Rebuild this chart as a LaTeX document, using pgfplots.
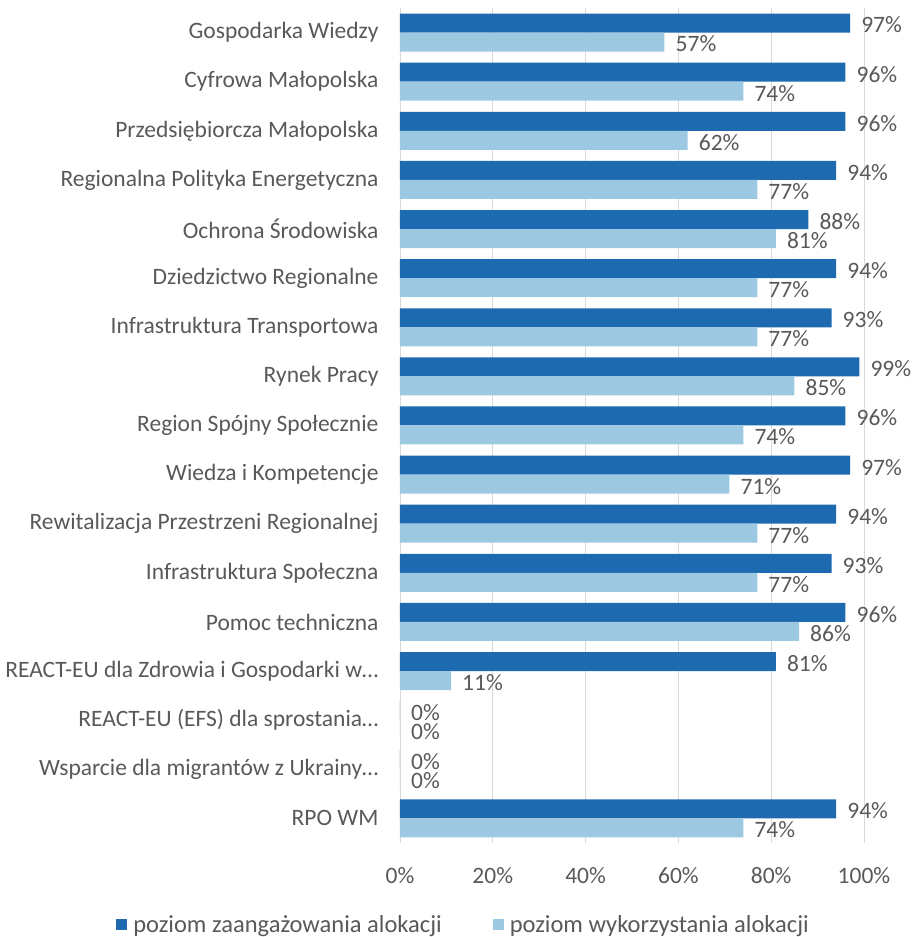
\documentclass[border=0pt]{standalone}
\usepackage{pgfplots}
\pgfplotsset{compat=1.18}
\usepackage{fontspec}
\setmainfont{Carlito}
\definecolor{darkb}{RGB}{30,106,176}
\definecolor{lightb}{RGB}{157,200,226}
\definecolor{txt}{RGB}{89,89,89}
\definecolor{grd}{RGB}{217,217,217}
\begin{document}
\begin{tikzpicture}
\path[use as bounding box] (-400pt,-94pt) rectangle (514pt,843pt);
\begin{axis}[
  at={(0pt,0pt)}, anchor=south west,
  scale only axis, width=464pt, height=835pt,
  /pgf/number format/assume math mode=true,
  xbar, bar width=19pt,
  xmin=0, xmax=100,
  ymin=-0.5, ymax=16.5,
  xtick={0,20,40,60,80,100},
  xticklabels={0\%,20\%,40\%,60\%,80\%,100\%},
  ytick={0,1,2,3,4,5,6,7,8,9,10,11,12,13,14,15,16},
  yticklabels={{RPO WM},{Wsparcie dla migrantów z Ukrainy…},{REACT-EU (EFS) dla sprostania…},{REACT-EU dla Zdrowia i Gospodarki w…},{Pomoc techniczna},{Infrastruktura Społeczna},{Rewitalizacja Przestrzeni Regionalnej},{Wiedza i Kompetencje},{Region Spójny Społecznie},{Rynek Pracy},{Infrastruktura Transportowa},{Dziedzictwo Regionalne},{Ochrona Środowiska},{Regionalna Polityka Energetyczna},{Przedsiębiorcza Małopolska},{Cyfrowa Małopolska},{Gospodarka Wiedzy}},
  xmajorgrids, major grid style={grd, line width=0.9pt},
  axis line style={draw=none},
  major tick length=0pt,
  tick label style={font=\fontsize{23.5}{26}\selectfont, text=txt},
  yticklabel style={xshift=-18pt},
  xticklabel style={yshift=-21pt},
  point meta=x,
  nodes near coords={\pgfmathprintnumber{\pgfplotspointmeta}\%},
  nodes near coords style={font=\fontsize{23.5}{26}\selectfont, text=txt, anchor=west, xshift=9pt, yshift=-2pt, inner xsep=2pt, inner ysep=0pt},
  legend style={draw=none, at={(0.137,-0.098)}, anchor=center, legend columns=2,
    font=\fontsize{24.5}{27}\selectfont, text=txt, /tikz/every even column/.append style={column sep=49pt},
    /tikz/every odd column/.append style={column sep=4pt}},
  legend image code/.code={\fill[#1] (0pt,-5.5pt) rectangle (11pt,5.5pt);},
  clip=false,
]
\addplot[fill=darkb, draw=none, bar shift=9.5pt] coordinates {
(94,0) (0,1) (0,2) (81,3) (96,4) (93,5) (94,6) (97,7) (96,8) (99,9) (93,10) (94,11) (88,12) (94,13) (96,14) (96,15) (97,16)};
\addlegendentry{poziom zaangażowania alokacji}
\addplot[fill=lightb, draw=none, bar shift=-9.5pt] coordinates {
(74,0) (0,1) (0,2) (11,3) (86,4) (77,5) (77,6) (71,7) (74,8) (85,9) (77,10) (77,11) (81,12) (77,13) (62,14) (74,15) (57,16)};
\addlegendentry{poziom wykorzystania alokacji}
\end{axis}
\end{tikzpicture}
\end{document}
